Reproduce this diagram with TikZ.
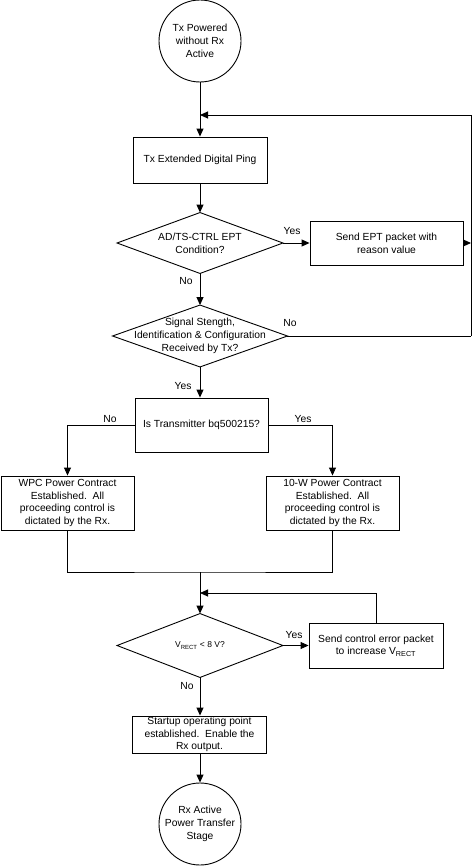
\documentclass[tikz,border=0pt]{standalone}
\usepackage{fontspec}
\setmainfont{Liberation Sans}
\usetikzlibrary{arrows.meta,calc}
\begin{document}
\begin{tikzpicture}[x=1pt,y=-1pt,
  font=\fontsize{10.3}{12.7}\selectfont,
  line width=0.9pt,
  arr/.style={-{Triangle[length=8pt,width=7pt]}},
  proc/.style={draw, rectangle, align=center, inner sep=0pt},
  term/.style={draw, circle, minimum size=82pt, inner sep=0pt, align=center},
  dec/.style={rectangle, align=center, inner sep=0pt},
  lbl/.style={inner sep=0pt}]
\useasboundingbox (0,0) rectangle (473,867);

% nodes
\node[term] (start) at (200,41) {Tx Powered\\without Rx\\Active};
\node[proc, minimum width=134pt, minimum height=46pt] (ping) at (200,160) {Tx Extended Digital Ping};
\node[dec, minimum width=165pt, minimum height=60pt] (d1) at (200,243) {AD/TS-CTRL EPT\\Condition?};
\draw (d1.north) -- (d1.east) -- (d1.south) -- (d1.west) -- cycle;
\node[proc, minimum width=153pt, minimum height=44pt] (ept) at (386.5,243) {Send EPT packet with\\reason value};
\node[dec, minimum width=174pt, minimum height=61pt] (d2) at (200,336) {Signal Stength,\\Identification \& Configuration\\Received by Tx?};
\draw (d2.north) -- (d2.east) -- (d2.south) -- (d2.west) -- cycle;
\node[proc, minimum width=133pt, minimum height=54pt] (tx) at (201.5,425) {Is Transmitter bq500215?};
\node[proc, minimum width=133pt, minimum height=54pt] (wpc) at (67.5,503) {WPC Power Contract\\Established.\ \ All\\proceeding control is\\dictated by the Rx.};
\node[proc, minimum width=133pt, minimum height=54pt] (ten) at (332.5,503) {10-W Power Contract\\Established.\ \ All\\proceeding control is\\dictated by the Rx.};
\node[dec, minimum width=165pt, minimum height=63pt] (d3) at (200,645.5) {\fontsize{8.5}{10}\selectfont V\textsubscript{RECT} < 8 V?};
\draw (d3.north) -- (d3.east) -- (d3.south) -- (d3.west) -- cycle;
\node[proc, minimum width=134pt, minimum height=45pt] (cep) at (376,645.5) {Send control error packet\\to increase V\textsubscript{RECT}};
\node[proc, minimum width=134pt, minimum height=37pt] (op) at (199.5,734.5) {Startup operating point\\established.\ \ Enable the\\Rx output.};
\node[term] (fin) at (200,824) {Rx Active\\Power Transfer\\Stage};

% coordinates
\coordinate (loopTop) at (471,115);
\coordinate (loopJoin) at (200,115);
\coordinate (loopBot) at (471,336);
\coordinate (eptJoin) at (471,243);
\coordinate (merge) at (200,572);
\coordinate (join3) at (200,593);

% connectors
\draw[arr] (start.south) -- (ping.north);
\draw[arr] (loopBot) -- (loopTop) -- (loopJoin);
\draw[arr] (ping.south) -- (d1.north);
\draw[arr] (d1.east) -- (ept.west);
\draw[arr] (ept.east) -- (eptJoin);
\draw[arr] (d1.south) -- (d2.north);
\draw (d2.east) -- (loopBot);
\draw[arr] (d2.south) -- (d2.south |- tx.north);
\draw[arr] (tx.west) -| (wpc.north);
\draw[arr] (tx.east) -| (ten.north);
\draw (wpc.south) |- (merge) -| (ten.south);
\draw[arr] (merge) -- (d3.north);
\draw[arr] (cep.north) |- (join3);
\draw[arr] (d3.east) -- (cep.west);
\draw[arr] (d3.south) -- (d3.south |- op.north);
\draw[arr] (op.south -| fin.north) -- (fin.north);

% labels
\node[lbl] (l1) at (292,231) {Yes};
\node[lbl] (l2) at (186,281) {No};
\node[lbl] (l3) at (290,323) {No};
\node[lbl] (l4) at (183,386) {Yes};
\node[lbl] (l5) at (110,419) {No};
\node[lbl] (l6) at (303,419) {Yes};
\node[lbl] (l7) at (294,635) {Yes};
\node[lbl] (l8) at (187,686) {No};
\end{tikzpicture}
\end{document}
